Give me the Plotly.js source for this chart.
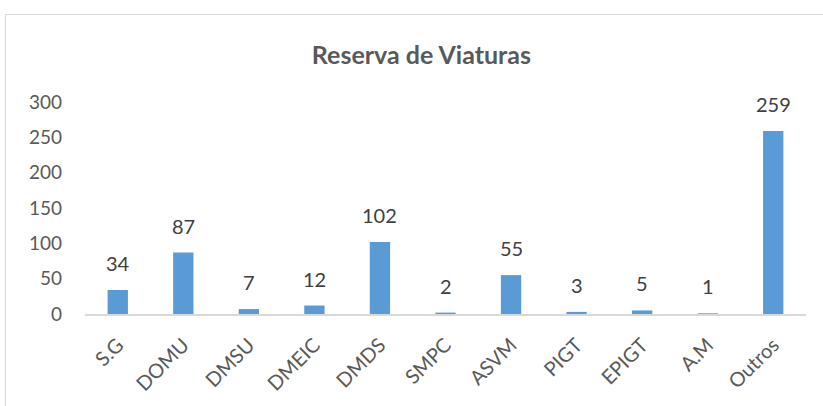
<!DOCTYPE html>
<html>
<head>
<meta charset="utf-8">
<script src="https://cdn.plot.ly/plotly-3.0.1.min.js"></script>
<style>
  html, body { margin: 0; padding: 0; background: #ffffff; overflow: hidden; }
  #wrap { position: relative; width: 823px; height: 406px; }
  #chart { position: absolute; left: 0; top: 0; width: 823px; height: 406px; }
  #frame { position: absolute; left: 5px; top: 14px; width: 900px; height: 500px;
           border: 1.5px solid #d9d9d9; box-sizing: border-box; pointer-events: none; }
</style>
</head>
<body>
<div id="wrap">
  <div id="chart"></div>
  <div id="frame"></div>
</div>
<script>
const categories = ["S.G", "DOMU", "DMSU", "DMEIC", "DMDS", "SMPC", "ASVM", "PIGT", "EPIGT", "A.M", "Outros"];
const values = [34, 87, 7, 12, 102, 2, 55, 3, 5, 1, 259];
const yTicks = [0, 50, 100, 150, 200, 250, 300];

const FONT = "Lato, 'Open Sans', 'DejaVu Sans', sans-serif";

const trace = {
  type: "bar",
  x: categories,
  y: values,
  marker: { color: "#5b9bd5" },
  hoverinfo: "x+y"
};

const annotations = categories.map((c, i) => ({
  x: c,
  y: values[i],
  xref: "x",
  yref: "y",
  text: String(values[i]),
  showarrow: false,
  yanchor: "bottom",
  yshift: 13,
  font: { family: FONT, size: 20, color: "#404040" }
}));

const layout = {
  width: 823,
  height: 406,
  margin: { l: 85, r: 17, t: 102, b: 92, pad: 0 },
  paper_bgcolor: "#ffffff",
  plot_bgcolor: "#ffffff",
  bargap: 0.69,
  showlegend: false,
  title: {
    text: "<b>Reserva de Viaturas</b>",
    font: { family: FONT, size: 25, color: "#595959" },
    x: 0.512,
    xanchor: "center",
    y: 0.865,
    yanchor: "middle"
  },
  xaxis: {
    type: "category",
    showgrid: false,
    zeroline: false,
    showline: true,
    linecolor: "#d9d9d9",
    linewidth: 1.5,
    ticks: "",
    tickangle: -45,
    ticklabelstandoff: 10,
    tickfont: { family: FONT, size: 20, color: "#595959" },
    fixedrange: true
  },
  yaxis: {
    range: [0, 300],
    tickvals: yTicks,
    ticktext: yTicks.map(String),
    showgrid: false,
    zeroline: false,
    showline: false,
    ticks: "",
    ticklabelstandoff: 22,
    tickfont: { family: FONT, size: 19, color: "#595959" },
    fixedrange: true
  },
  annotations: annotations
};

Plotly.newPlot("chart", [trace], layout, { displayModeBar: false, staticPlot: true });
</script>
</body>
</html>
